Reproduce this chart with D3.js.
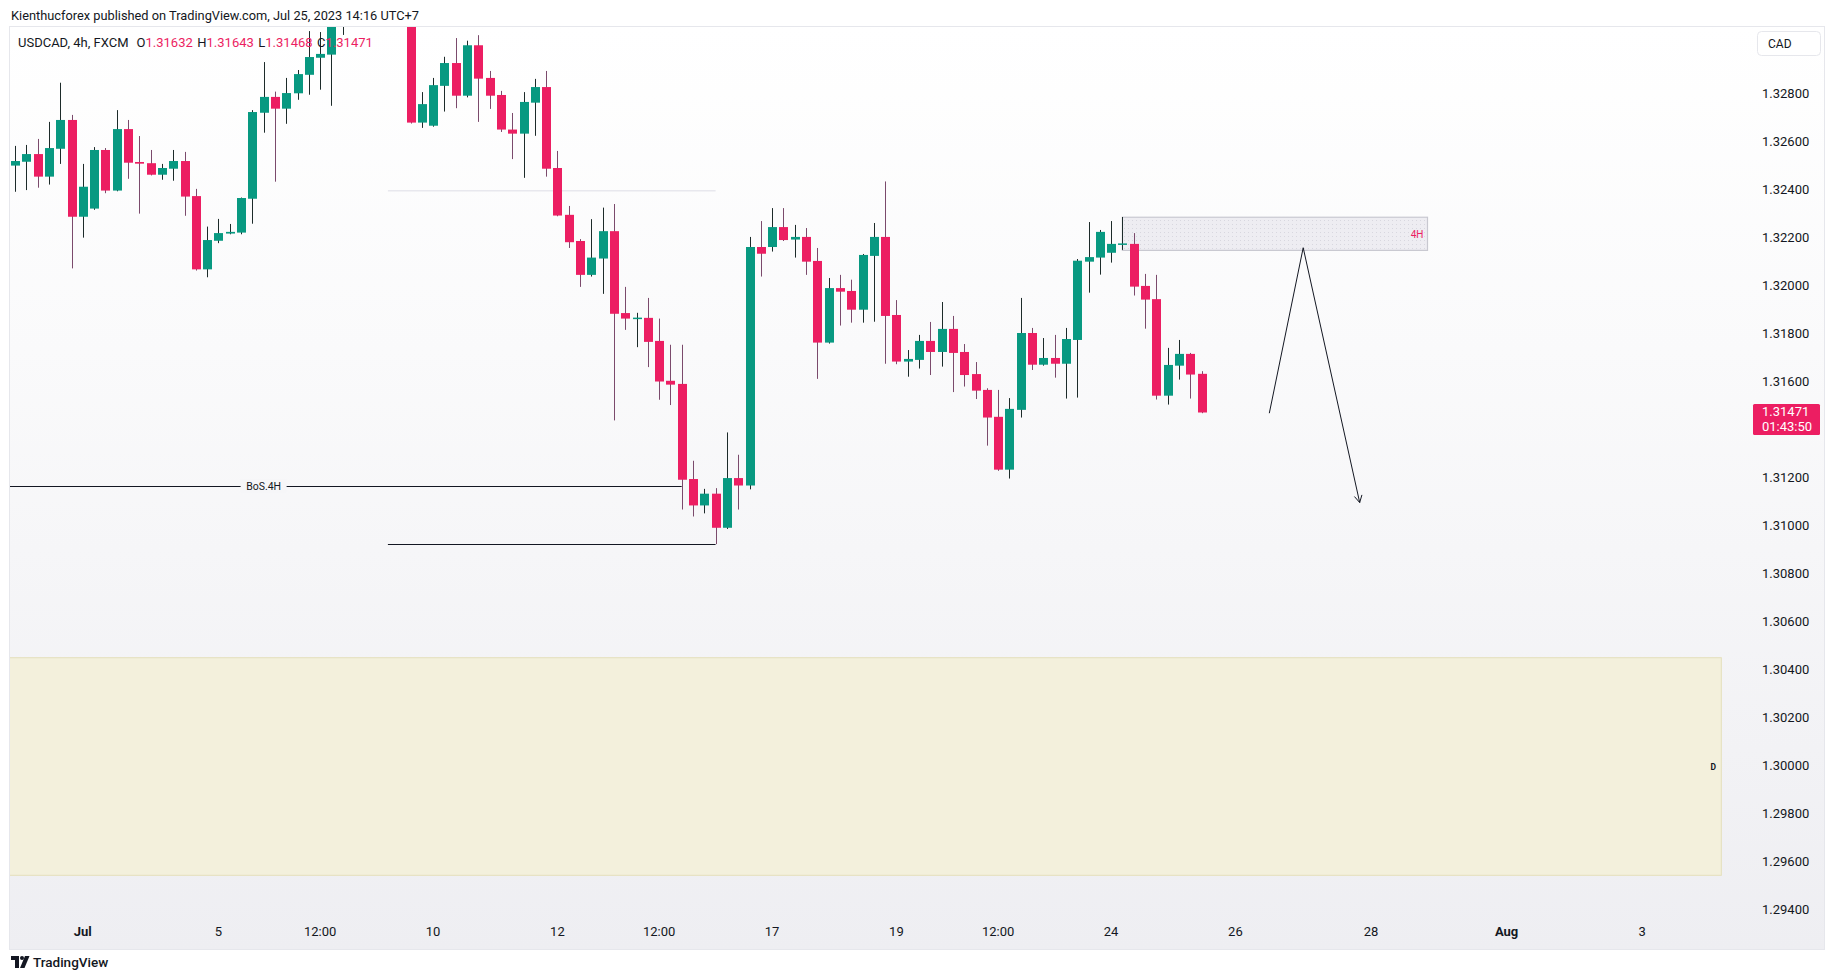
<!DOCTYPE html>
<html><head><meta charset="utf-8">
<script src="https://cdn.jsdelivr.net/npm/d3@7"></script>
<style>
html,body{margin:0;padding:0;background:#fff;}
svg{display:block;font-family:Roboto,"Liberation Sans",sans-serif;}
</style></head><body>
<svg id="chart" width="1835" height="979"></svg>
<script>
// ---------------- DATA ----------------
const firstIndex = -18; // index of first candle (Jun 30 00:00); index 0 = Jul 5 00:00
const opens = [1.32499,1.32515,1.32547,1.32453,1.32569,1.32689,1.32286,1.32320,1.32564,1.32395,1.32651,1.32514,1.32509,1.32461,1.32486,1.32518,1.32372,1.32067,
1.32186,1.32216,1.32220,1.32361,1.32719,1.32785,1.32736,1.32800,1.32877,1.32948,1.32961,1.33120,1.33350,1.33520,1.33650,1.33580,1.33750,1.33600,
1.32678,1.32665,1.32831,1.32926,1.32790,1.33000,1.32864,1.32793,1.32649,1.32632,1.32761,1.32826,1.32489,1.32294,1.32185,1.32044,1.32112,1.32226,
1.31885,1.31864,1.31865,1.31769,1.31603,1.31590,1.31194,1.31084,1.31133,1.30991,1.31198,1.31167,1.32160,1.32160,1.32243,1.32191,1.32202,1.32102,
1.31762,1.31989,1.31977,1.31899,1.32123,1.32202,1.31877,1.31683,1.31690,1.31769,1.31723,1.31819,1.31723,1.31631,1.31565,1.31453,1.31233,1.31482,
1.31802,1.31670,1.31698,1.31674,1.31773,1.32099,1.32116,1.32136,1.32172,1.32173,1.31998,1.31943,1.31541,1.31666,1.31715,1.31632];
const highs = [1.32581,1.32585,1.32610,1.32681,1.32844,1.32710,1.32506,1.32576,1.32572,1.32730,1.32689,1.32622,1.32564,1.32506,1.32564,1.32556,1.32402,1.32245,
1.32277,1.32256,1.32366,1.32730,1.32930,1.32807,1.32864,1.32897,1.33059,1.33055,1.33180,1.33420,1.33600,1.33720,1.33800,1.33860,1.33830,1.33720,
1.32805,1.32864,1.32952,1.33030,1.33019,1.33042,1.32893,1.32810,1.32718,1.32805,1.32860,1.32893,1.32560,1.32331,1.32193,1.32276,1.32324,1.32339,
1.31994,1.31886,1.31948,1.31862,1.31753,1.31753,1.31270,1.31153,1.31156,1.31388,1.31295,1.32202,1.32268,1.32322,1.32322,1.32252,1.32239,1.32156,
1.32031,1.32044,1.32024,1.32131,1.32260,1.32433,1.31939,1.31731,1.31794,1.31848,1.31931,1.31873,1.31756,1.31681,1.31572,1.31565,1.31531,1.31948,
1.31823,1.31781,1.31794,1.31823,1.32110,1.32264,1.32231,1.32268,1.32285,1.32218,1.32048,1.32044,1.31740,1.31773,1.31719,1.31643];
const lows = [1.32390,1.32397,1.32407,1.32420,1.32506,1.32071,1.32199,1.32315,1.32384,1.32392,1.32444,1.32299,1.32458,1.32440,1.32436,1.32290,1.32062,1.32034,
1.32176,1.32213,1.32213,1.32257,1.32636,1.32432,1.32673,1.32773,1.32794,1.32815,1.32748,1.33043,1.33250,1.33400,1.33500,1.33480,1.33520,1.32674,
1.32656,1.32661,1.32724,1.32738,1.32783,1.32681,1.32735,1.32639,1.32526,1.32448,1.32623,1.32453,1.32288,1.32156,1.31994,1.32037,1.31965,1.31438,
1.31815,1.31743,1.31660,1.31524,1.31502,1.31067,1.31038,1.31051,1.30923,1.30986,1.31067,1.31151,1.32037,1.32141,1.32185,1.32116,1.32044,1.31611,
1.31758,1.31833,1.31845,1.31845,1.31849,1.31674,1.31672,1.31620,1.31654,1.31627,1.31662,1.31556,1.31579,1.31527,1.31333,1.31228,1.31196,1.31450,
1.31648,1.31666,1.31616,1.31529,1.31533,1.31970,1.32045,1.32095,1.32148,1.31958,1.31820,1.31525,1.31504,1.31608,1.31529,1.31468];
const closes = [1.32518,1.32547,1.32453,1.32572,1.32689,1.32286,1.32411,1.32564,1.32395,1.32651,1.32511,1.32507,1.32461,1.32489,1.32518,1.32370,1.32067,1.32189,
1.32218,1.32223,1.32364,1.32722,1.32785,1.32736,1.32801,1.32880,1.32951,1.32964,1.33120,1.33350,1.33520,1.33650,1.33580,1.33750,1.33600,1.32678,
1.32755,1.32834,1.32926,1.32790,1.33000,1.32861,1.32790,1.32649,1.32632,1.32764,1.32826,1.32486,1.32291,1.32180,1.32044,1.32116,1.32226,1.31882,
1.31862,1.31866,1.31765,1.31600,1.31587,1.31191,1.31084,1.31133,1.30991,1.31198,1.31167,1.32160,1.32132,1.32243,1.32189,1.32202,1.32099,1.31762,
1.31989,1.31974,1.31899,1.32127,1.32202,1.31873,1.31683,1.31694,1.31769,1.31723,1.31819,1.31719,1.31627,1.31562,1.31450,1.31233,1.31486,1.31802,
1.31670,1.31698,1.31674,1.31777,1.32103,1.32118,1.32223,1.32173,1.32175,1.31995,1.31941,1.31541,1.31669,1.31715,1.31629,1.31471];

const priceTicks = [1.294,1.296,1.298,1.300,1.302,1.304,1.306,1.308,1.310,1.312,1.316,1.318,1.320,1.322,1.324,1.326,1.328];
const timeTickIndex = [-12,0,9,19,30,39,49,60,69,79,90,102,114,126];
const timeTickLabels = ["Jul","5","12:00","10","12","12:00","17","19","12:00","24","26","28","Aug","3"];
const monthLabels = ["Jul","Aug"];

const headerText = "Kienthucforex published on TradingView.com, Jul 25, 2023 14:16 UTC+7";
const symbolText = "USDCAD, 4h, FXCM";
const ohlcLegend = [["O","1.31632"],["H","1.31643"],["L","1.31468"],["C","1.31471"]];
const lastPrice = 1.31471, countdown = "01:43:50", currency = "CAD";

// annotations (bar index, price)
const bosLine = {price:1.31165, from:-18.5, to:41, label:"BoS.4H", labelAt:4};
const lowLine = {price:1.30923, from:15, to:44};
const faintLine = {price:1.32394, from:15, to:44};
const zone4h = {from:80, to:107, top:1.32284, bottom:1.32146, label:"4H"};
const zoneD = {from:-18.5, to:133, top:1.30450, bottom:1.29544, label:"D"};
const arrowIdx = [93,96,101];
const arrowPrice = [1.31468,1.32157,1.31096];

// ---------------- DRAW ----------------
const svg = d3.select("#chart");
const pane = {left:9.5, top:26.5, right:1824.5, bottom:949.5};
const plotRight = 1745, axisTop = 915;
const red = "#ec1e62", green = "#089981", ink = "#131722";

const x = d3.scaleLinear().domain([-18.5, 135]).range([9.35, 1743.9]);
const y = d3.scaleLinear().domain([1.294, 1.328]).range([909.9, 93.3]);

const defs = svg.append("defs");
const grad = defs.append("linearGradient").attr("id","bg").attr("x1",0).attr("y1",0).attr("x2",0).attr("y2",1);
grad.append("stop").attr("offset","0%").attr("stop-color","#ffffff");
grad.append("stop").attr("offset","35%").attr("stop-color","#fafafb");
grad.append("stop").attr("offset","100%").attr("stop-color","#eeeef2");
const pat = defs.append("pattern").attr("id","dots").attr("width",4).attr("height",4).attr("patternUnits","userSpaceOnUse");
pat.append("rect").attr("width",1).attr("height",1).attr("fill","#c9c9d3");
defs.append("clipPath").attr("id","plotclip").append("rect")
  .attr("x",10).attr("y",27).attr("width",plotRight-10).attr("height",axisTop-27);

// header
svg.append("text").attr("x",11).attr("y",19.5).attr("font-size",12.8).attr("fill",ink).text(headerText);

// pane
svg.append("rect").attr("x",pane.left).attr("y",pane.top).attr("width",pane.right-pane.left)
  .attr("height",pane.bottom-pane.top).attr("fill","url(#bg)").attr("stroke","#e6e7ec");

const plot = svg.append("g").attr("clip-path","url(#plotclip)");

// D zone
plot.append("rect").attr("x",x(zoneD.from)).attr("y",y(zoneD.top))
  .attr("width",x(zoneD.to)-x(zoneD.from)).attr("height",y(zoneD.bottom)-y(zoneD.top))
  .attr("fill","#f3f0dc").attr("stroke","#e4dfbb");
plot.append("text").attr("x",x(zoneD.to)-8).attr("y",(y(zoneD.top)+y(zoneD.bottom))/2+3)
  .attr("font-size",8.5).attr("font-weight","bold").attr("text-anchor","middle").attr("fill",ink).text(zoneD.label);

// faint line
plot.append("line").attr("x1",x(faintLine.from)).attr("x2",x(faintLine.to))
  .attr("y1",y(faintLine.price)).attr("y2",y(faintLine.price)).attr("stroke","#e8e8ee").attr("stroke-width",1.5);

// BoS + low lines
plot.append("line").attr("x1",x(bosLine.from)).attr("x2",x(bosLine.to))
  .attr("y1",Math.round(y(bosLine.price))+0.5).attr("y2",Math.round(y(bosLine.price))+0.5).attr("stroke",ink).attr("stroke-width",1);
const bosLbl = plot.append("g");
bosLbl.append("rect").attr("x",x(bosLine.labelAt)-23).attr("y",y(bosLine.price)-7).attr("width",46).attr("height",14).attr("fill","#f6f6f8");
bosLbl.append("text").attr("x",x(bosLine.labelAt)).attr("y",y(bosLine.price)+4).attr("text-anchor","middle")
  .attr("font-size",10.5).attr("fill",ink).text(bosLine.label);
plot.append("line").attr("x1",x(lowLine.from)).attr("x2",x(lowLine.to))
  .attr("y1",Math.round(y(lowLine.price))+0.5).attr("y2",Math.round(y(lowLine.price))+0.5).attr("stroke",ink).attr("stroke-width",1.2);

// 4H zone
plot.append("rect").attr("x",x(zone4h.from)).attr("y",y(zone4h.top))
  .attr("width",x(zone4h.to)-x(zone4h.from)).attr("height",y(zone4h.bottom)-y(zone4h.top))
  .attr("fill","#eeedf2").attr("stroke","#c8c8d0").attr("stroke-width",1.2);
plot.append("rect").attr("x",x(zone4h.from)).attr("y",y(zone4h.top))
  .attr("width",x(zone4h.to)-x(zone4h.from)).attr("height",y(zone4h.bottom)-y(zone4h.top))
  .attr("fill","url(#dots)").attr("opacity",0.6);
plot.append("text").attr("x",x(zone4h.to)-4).attr("y",(y(zone4h.top)+y(zone4h.bottom))/2+4)
  .attr("text-anchor","end").attr("font-size",10).attr("fill",red).text(zone4h.label);

// legend
const leg = svg.append("text").attr("x",18).attr("y",47).attr("font-size",13).attr("fill",ink);
leg.append("tspan").text(symbolText);
ohlcLegend.forEach((d,i)=>{
  leg.append("tspan").attr("dx", i===0?8:4.5).attr("fill",ink).text(d[0]);
  leg.append("tspan").attr("fill",red).text(d[1]);
});

// candles
const candles = opens.map((o,i)=>({i:firstIndex+i,o,h:highs[i],l:lows[i],c:closes[i]}));
const cg = plot.append("g");
candles.forEach(d=>{
  const cx = Math.round(x(d.i));
  const up = d.c >= d.o;
  cg.append("line").attr("x1",cx+0.5).attr("x2",cx+0.5).attr("y1",y(d.h)).attr("y2",y(d.l))
    .attr("stroke", up ? "#1d2b2a" : "#7b4a6c").attr("stroke-width",1);
  const top = y(Math.max(d.o,d.c)), bot = y(Math.min(d.o,d.c));
  cg.append("rect").attr("x",cx-4).attr("width",9).attr("y",top).attr("height",Math.max(1.5,bot-top))
    .attr("fill", up ? green : red);
});

// arrow
const arrowPts = arrowIdx.map((d,i)=>[x(d), y(arrowPrice[i])]);
plot.append("path").attr("d",d3.line()(arrowPts)).attr("fill","none").attr("stroke",ink).attr("stroke-width",1);
{
  const [x1,y1] = arrowPts[1], [x2,y2] = arrowPts[2];
  const ang = Math.atan2(y2-y1,x2-x1), L=8;
  const head = [[x2-L*Math.cos(ang-0.5), y2-L*Math.sin(ang-0.5)],[x2,y2],[x2-L*Math.cos(ang+0.5), y2-L*Math.sin(ang+0.5)]];
  plot.append("path").attr("d",d3.line()(head)).attr("fill","none").attr("stroke",ink).attr("stroke-width",1);
}

// price axis
const pa = svg.append("g");
pa.selectAll("text").data(priceTicks).join("text")
  .attr("x",1762).attr("y",d=>y(d)+4.5).attr("font-size",13).attr("fill",ink)
  .text(d=>d3.format(".5f")(d));
// currency box
svg.append("rect").attr("x",1757.5).attr("y",31.5).attr("width",63).attr("height",24).attr("rx",4)
  .attr("fill","#ffffff").attr("stroke","#e6e7ec");
svg.append("text").attr("x",1768).attr("y",48).attr("font-size",12).attr("fill",ink).text(currency);
// last price label
const ly = y(lastPrice);
svg.append("rect").attr("x",1753).attr("y",ly-8.5).attr("width",67).attr("height",31).attr("rx",1.5).attr("fill",red);
svg.append("text").attr("x",1762).attr("y",ly+4).attr("font-size",13).attr("fill","#fff").text(d3.format(".5f")(lastPrice));
svg.append("text").attr("x",1762).attr("y",ly+19).attr("font-size",13).attr("fill","#fff").text(countdown);

// time axis
svg.append("g").selectAll("text").data(timeTickIndex).join("text")
  .attr("x",d=>x(d)).attr("y",936).attr("text-anchor","middle").attr("font-size",13)
  .attr("font-weight",(d,i)=>monthLabels.includes(timeTickLabels[i])?"bold":"normal")
  .attr("fill",ink).text((d,i)=>timeTickLabels[i]);

// TradingView logo
const logo = svg.append("g").attr("transform","translate(11,956)");
logo.append("path").attr("d","M0 0H8V12H4V4H0Z").attr("fill",ink);
logo.append("circle").attr("cx",11).attr("cy",2).attr("r",2).attr("fill",ink);
logo.append("path").attr("d","M14 0H18.5L13.5 12H9Z").attr("fill",ink);
svg.append("text").attr("x",33).attr("y",967).attr("font-size",13.5).attr("font-weight",500).attr("fill",ink).text("TradingView");
</script>
</body></html>
